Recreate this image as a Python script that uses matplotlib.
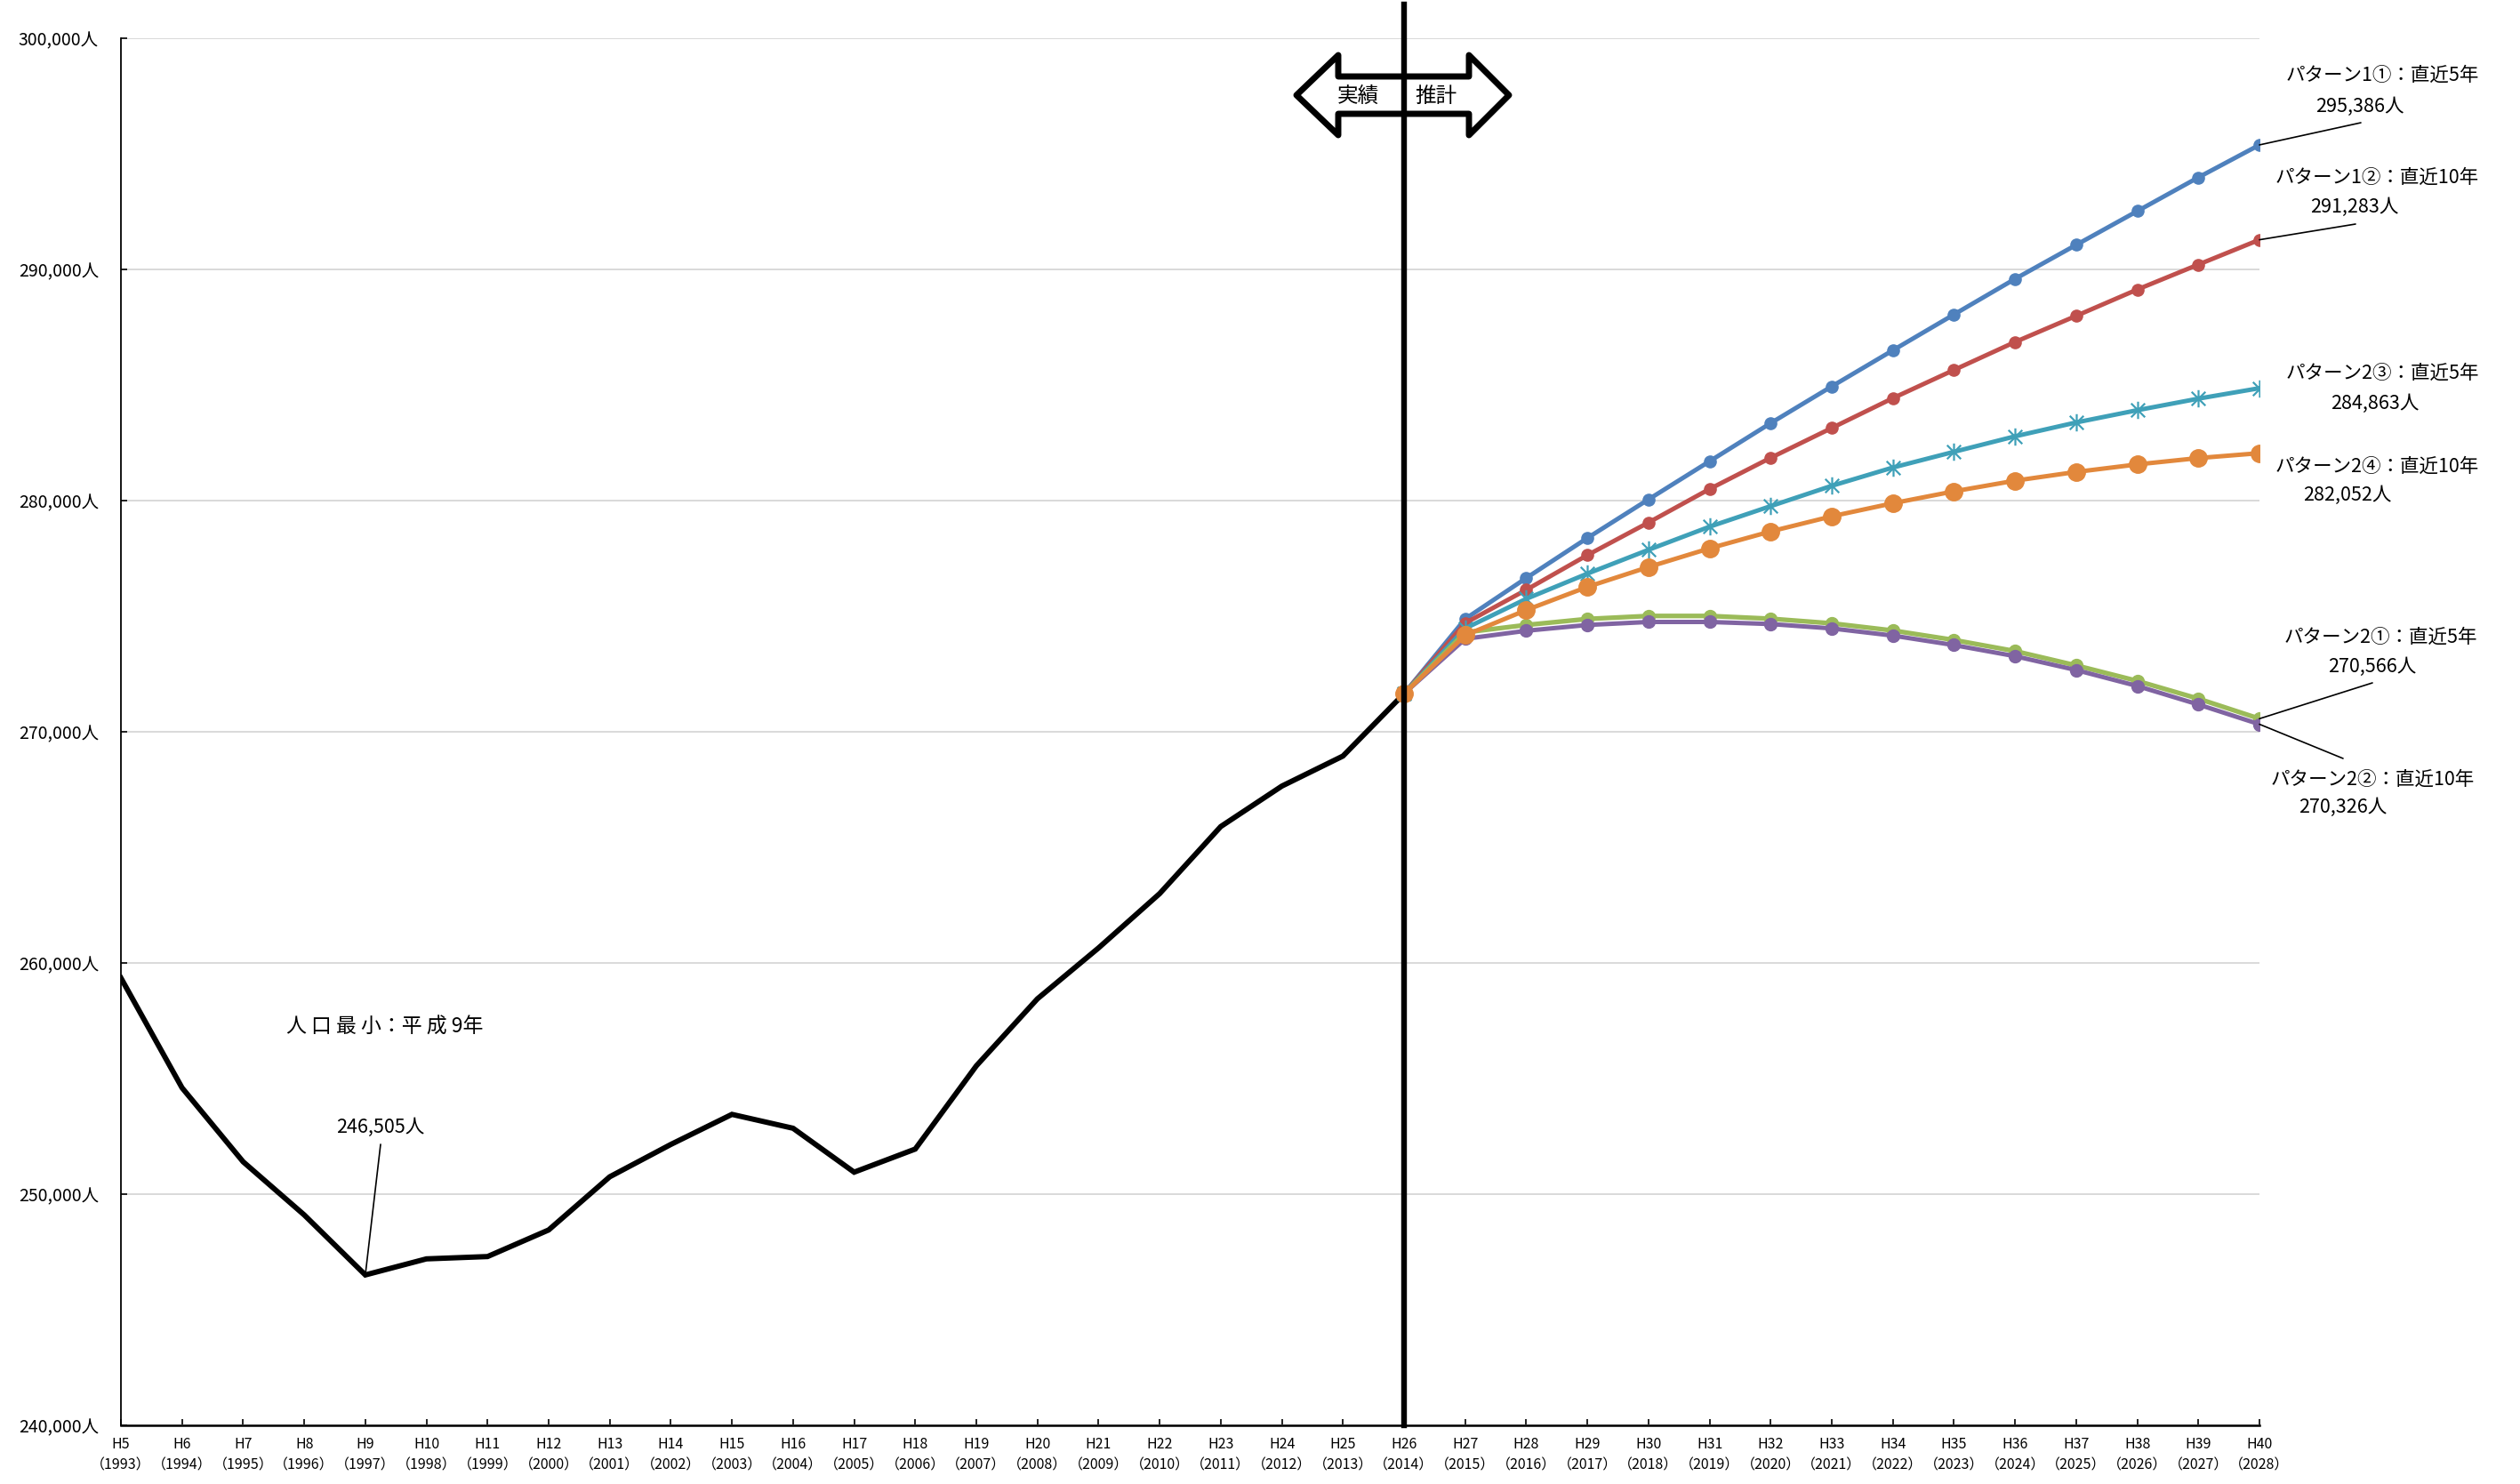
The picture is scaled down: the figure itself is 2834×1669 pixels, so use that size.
import matplotlib
matplotlib.use('Agg')
import matplotlib.pyplot as plt
from matplotlib.patches import Polygon
from matplotlib.path import Path
from matplotlib.ticker import FuncFormatter

plt.rcParams['font.family'] = ['Noto Sans CJK JP', 'DejaVu Sans']

# Data
heisei = list(range(5, 41))
years = list(range(1993, 2029))
x_labels = [f'H{h}\n（{y}）' for h, y in zip(heisei, years)]

# actual population H5..H26
actual = [259350, 254600, 251400, 249100, 246505, 247200, 247300, 248450,
          250750, 252150, 253450, 252850, 250950, 251950, 255550, 258450,
          260650, 263000, 265900, 267650, 268950, 271650]

# projections H26..H40
p1_1 = [271650, 274880, 276650, 278380, 280050, 281700, 283350, 284940,
        286500, 288050, 289590, 291060, 292520, 293980, 295386]
p1_2 = [271650, 274700, 276140, 277640, 279050, 280500, 281850, 283140,
        284430, 285650, 286860, 287990, 289130, 290210, 291283]
p2_3 = [271650, 274470, 275750, 276840, 277870, 278870, 279760, 280640,
        281430, 282110, 282780, 283380, 283910, 284410, 284863]
p2_4 = [271650, 274175, 275265, 276266, 277126, 277934, 278666, 279320,
        279885, 280400, 280862, 281240, 281565, 281840, 282052]
p2_1 = [271650, 274300, 274620, 274880, 275010, 275010, 274890, 274690,
        274380, 273970, 273490, 272870, 272200, 271430, 270566]
p2_2 = [271650, 274020, 274370, 274620, 274750, 274750, 274660, 274470,
        274160, 273750, 273270, 272670, 271980, 271180, 270326]

W, H = 2834, 1669
fig = plt.figure(figsize=(W / 100, H / 100), dpi=100)
ax = fig.add_axes([136 / W, 1 - 1603 / H, (2541 - 136) / W, (1603 - 43) / H])

xa = list(range(len(actual)))
xp = list(range(len(actual) - 1, len(heisei)))

ax.plot(xa, actual, color='black', lw=4.3, zorder=3, solid_joinstyle='miter')

star = Path([(-1, -1), (1, 1), (-1, 1), (1, -1), (0, -1.25), (0, 1.25)],
            [Path.MOVETO, Path.LINETO, Path.MOVETO, Path.LINETO, Path.MOVETO, Path.LINETO])

ax.plot(xp, p1_1, color='#4F81BD', lw=3.6, marker='o', ms=9.5, zorder=4)
ax.plot(xp, p1_2, color='#C0504D', lw=3.6, marker='o', ms=9.5, zorder=4)
ax.plot(xp, p2_3, color='#3FA0B8', lw=3.6, marker=star, ms=14, mew=1.6, zorder=4)
ax.plot(xp, p2_1, color='#9BBB59', lw=3.8, marker='o', ms=10, zorder=4)
ax.plot(xp, p2_2, color='#8064A2', lw=3.6, marker='o', ms=10, zorder=4)
ax.plot(xp, p2_4, color='#E2883C', lw=3.6, marker='o', ms=14, zorder=4)

# divider between actual and projection
ax.plot([21, 21], [240000, 301450], color='black', lw=4.6, clip_on=False, zorder=8)

ax.set_xlim(0, 35)
ax.set_ylim(240000, 300000)
ax.set_xticks(range(len(heisei)))
ax.set_xticklabels(x_labels, fontsize=11.5, linespacing=1.5)
ax.set_yticks(range(240000, 300001, 10000))
ax.yaxis.set_major_formatter(FuncFormatter(lambda v, p: f'{int(v):,}人'))
ax.tick_params(axis='y', labelsize=14, direction='in', length=5, width=1.2, pad=18)
ax.tick_params(axis='x', direction='in', length=5, width=1.2, pad=9)
ax.grid(axis='y', color='#D9D9D9', lw=1.4)
ax.set_axisbelow(True)
for s in ['top', 'right']:
    ax.spines[s].set_visible(False)
ax.spines['left'].set_linewidth(1.3)
ax.spines['bottom'].set_linewidth(1.8)

# double arrow 実績 / 推計
def fp(x, y):
    return (x / W, 1 - y / H)

arrow_pts = [(1458, 107), (1505, 62), (1505, 86), (1652, 86), (1652, 62),
             (1697, 107), (1652, 152), (1652, 128), (1505, 128), (1505, 152)]
ax.add_patch(Polygon([fp(*p) for p in arrow_pts], closed=True, facecolor='white',
                     edgecolor='black', lw=5, joinstyle='round',
                     transform=fig.transFigure, clip_on=False, zorder=7))
fig.text(*fp(1527, 108), '実績', fontsize=17, ha='center', va='center', zorder=9)
fig.text(*fp(1615, 108), '推計', fontsize=17, ha='center', va='center', zorder=9)

# labels at the end of each projection
lab = dict(fontsize=15.5, ha='center', va='center')
fig.text(*fp(2679, 85), 'パターン1①：直近5年', **lab)
fig.text(*fp(2654, 120), '295,386人', **lab)
fig.text(*fp(2673, 200), 'パターン1②：直近10年', **lab)
fig.text(*fp(2648, 233), '291,283人', **lab)
fig.text(*fp(2679, 420), 'パターン2③：直近5年', **lab)
fig.text(*fp(2671, 454), '284,863人', **lab)
fig.text(*fp(2673, 525), 'パターン2④：直近10年', **lab)
fig.text(*fp(2640, 557), '282,052人', **lab)
fig.text(*fp(2677, 717), 'パターン2①：直近5年', **lab)
fig.text(*fp(2668, 750), '270,566人', **lab)
fig.text(*fp(2668, 877), 'パターン2②：直近10年', **lab)
fig.text(*fp(2635, 908), '270,326人', **lab)

fig.text(*fp(433, 1155), '人 口 最 小：平 成 9年', fontsize=16.5, ha='center', va='center')
fig.text(*fp(428, 1268), '246,505人', fontsize=15.5, ha='center', va='center')

leader = dict(arrowstyle='-', color='black', lw=1.2, shrinkA=0, shrinkB=0)
def lead(xi, yv, px, py):
    ax.annotate('', xy=(xi, yv), xytext=(px, H - py), textcoords='figure pixels',
                arrowprops=leader, annotation_clip=False, zorder=9)

lead(35, p1_1[-1], 2655, 138)
lead(35, p1_2[-1], 2649, 252)
lead(35, p2_1[-1], 2668, 768)
lead(35, p2_2[-1], 2635, 853)
lead(4, actual[4], 428, 1287)

fig.savefig('out.png', dpi=100)
